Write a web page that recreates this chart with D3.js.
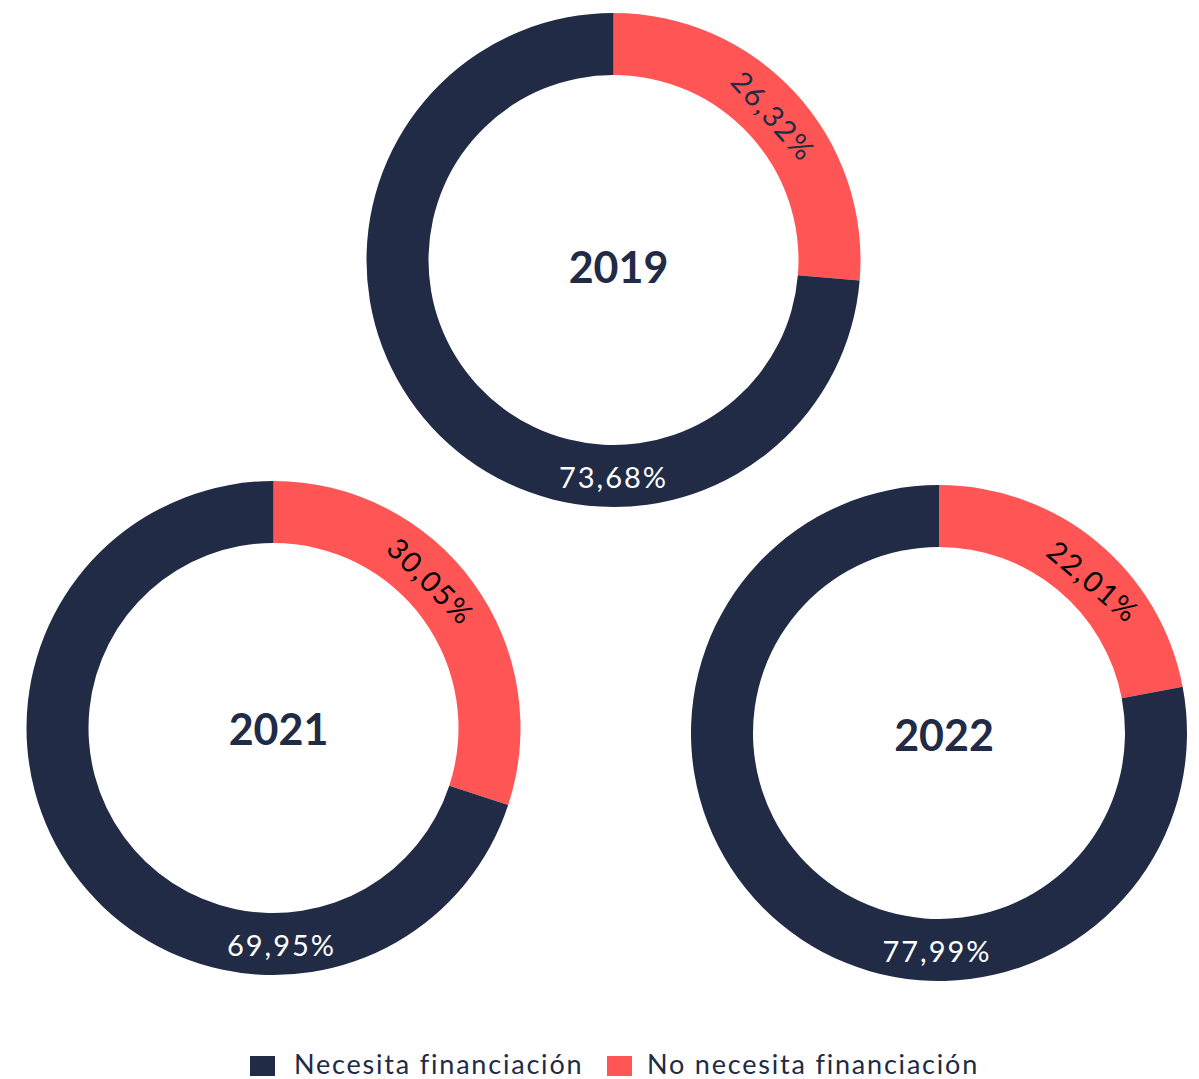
<!DOCTYPE html>
<html lang="es">
<head>
<meta charset="utf-8">
<title>Necesidad de financiación</title>
<script src="https://cdn.jsdelivr.net/npm/d3@7"></script>
<style>
  html, body { margin: 0; padding: 0; background: #ffffff; }
  svg { display: block; }
  text { font-family: "Lato", "Open Sans", sans-serif; }
</style>
</head>
<body>
<svg id="chart" width="1199" height="1079"></svg>
<script>
// Share of companies by year, in percent
const years = ["2019", "2021", "2022"];
const categories = ["Necesita financiación", "No necesita financiación"];
const necesita = [73.68, 69.95, 77.99];
const noNecesita = [26.32, 30.05, 22.01];

const colors = { "Necesita financiación": "#212b46", "No necesita financiación": "#ff5555" };

// Placement of each ring on the page
const layout = [
  { cx: 613.5, cy: 260, r: 247, redAngle: 48,   redRotate: 48, redInk: "#212b46", darkDx: 0,  yearDy: 23 },
  { cx: 273.5, cy: 728, r: 247, redAngle: 47,   redRotate: 45, redInk: "#000000", darkDx: 8,  yearDy: 17 },
  { cx: 939,   cy: 733, r: 248, redAngle: 45.5, redRotate: 40, redInk: "#000000", darkDx: -2, yearDy: 18 }
];
const ring = 62;

const fmt = v => v.toFixed(2).replace(".", ",") + "%";

const svg = d3.select("#chart");

// Red slice starts at 12 o'clock and runs clockwise, the dark slice fills the rest
const pie = d3.pie().sort(null).value(d => d.value);

years.forEach((year, i) => {
  const L = layout[i];
  const data = [
    { cat: categories[1], value: noNecesita[i] },
    { cat: categories[0], value: necesita[i] }
  ];
  const arc = d3.arc().innerRadius(L.r - ring).outerRadius(L.r);
  const g = svg.append("g").attr("transform", `translate(${L.cx},${L.cy})`);

  g.selectAll("path")
    .data(pie(data))
    .join("path")
    .attr("d", arc)
    .attr("fill", d => colors[d.data.cat]);

  const mid = L.r - ring / 2;

  // label on the red slice, set along the ring
  const a = L.redAngle * Math.PI / 180;
  g.append("text")
    .attr("transform", `translate(${mid * Math.sin(a)},${-mid * Math.cos(a)}) rotate(${L.redRotate})`)
    .attr("text-anchor", "middle")
    .attr("dominant-baseline", "central")
    .attr("font-size", 29)
    .attr("letter-spacing", 2)
    .attr("fill", L.redInk)
    .text(fmt(noNecesita[i]));

  // label on the dark slice, at the bottom of the ring
  g.append("text")
    .attr("x", L.darkDx)
    .attr("y", mid)
    .attr("text-anchor", "middle")
    .attr("dominant-baseline", "central")
    .attr("font-size", 29)
    .attr("letter-spacing", 2)
    .attr("fill", "#ffffff")
    .text(fmt(necesita[i]));

  // year in the hole
  g.append("text")
    .attr("x", 5)
    .attr("y", L.yearDy)
    .attr("text-anchor", "middle")
    .attr("font-size", 43)
    .attr("font-weight", 700)
    .attr("fill", "#212b46")
    .text(year);
});

// Legend
const legend = svg.append("g").attr("transform", "translate(250,1056)");
const legendX = [0, 357];
categories.forEach((c, i) => {
  const item = legend.append("g").attr("transform", `translate(${legendX[i]},0)`);
  item.append("rect")
    .attr("width", 25).attr("height", 20)
    .attr("fill", colors[c]);
  item.append("text")
    .attr("x", i === 0 ? 44 : 40).attr("y", 18)
    .attr("font-size", 27)
    .attr("letter-spacing", 1.8)
    .attr("fill", "#212b46")
    .text(c);
});
</script>
</body>
</html>
